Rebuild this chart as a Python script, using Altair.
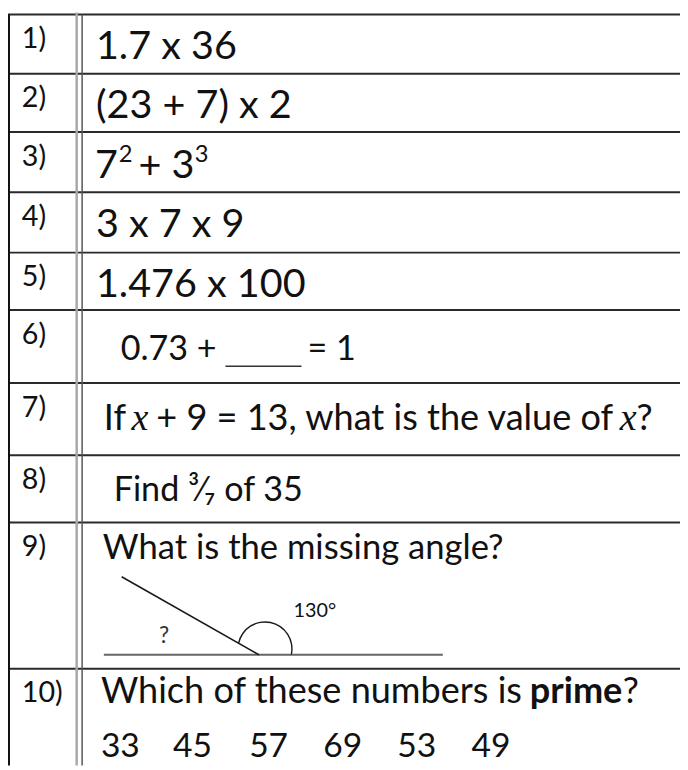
import altair as alt
import pandas as pd

# ---------------- content ----------------
labels = ["1)", "2)", "3)", "4)", "5)", "6)", "7)", "8)", "9)", "10)"]
questions_top = ["1.7 x 36", "(23 + 7) x 2", None, "3 x 7 x 9", "1.476 x 100"]
row3_text = ["7", "2", "+ 3", "3"]
row3_kind = ["main", "sup", "main", "sup"]
row6_text = ["0.73 +", "= 1"]
row7_text = ["If", "x", "+ 9 = 13, what is the value of", "x", "?"]
row7_kind = ["n", "i", "n", "i", "n"]
row8_text = ["Find \u00b3\u2044\u2087 of 35"]
row9_text = ["What is the missing angle?"]
row10_text = ["Which of these numbers is", "prime", "?"]
row10_kind = ["n", "b", "n"]
prime_choices = ["33", "45", "57", "69", "53", "49"]
angle_known = "130\u00b0"
angle_unknown = "?"

# ---------------- layout (page pixels) ----------------
PAGE_W, PAGE_H, MARGIN = 688, 770, 8
row_edges = [10, 70, 129, 190, 251, 309, 383, 456, 524, 672]
label_x = 22
label_off = 34
label_size = 29
top_q_x = 97
top_q_off = 45
top_q_size = 40
row3_x = [96, 120, 140, 197]
row3_base = {"main": 175, "sup": 159}
row3_size = {"main": 40, "sup": 24}
row6_x = [122, 311]
row6_base = 360
row6_size = 34.5
blank_line = [228, 305, 366]
row7_x = [105, 133, 158, 627, 644]
row7_base = 430
row7_size = 36.5
row8_x = [115]
row8_base = 502
row8_size = 34.5
row9_x = [104]
row9_base = 561
row9_size = 35
row10_x = [102, 536, 630]
row10_base = 707
row10_size = 36.5
choices_x = [102, 175, 252, 327, 402, 477]
choices_base = 761
choices_size = 34

v_lines_x = [9, 77.5, 83]
v_lines_y0 = [10, 8, 10]
v_lines_col = ["#111111", "#a8a8a8", "#555555"]
v_lines_w = [2, 2.5, 1.5]

fig_base = [105, 658, 448, 658]
fig_slant = [123, 579, 262, 658]
arc_center = [268, 652]
arc_r = [28, 26.6]
arc_theta = [4.93, 8.06]
q_mark_pos = [166, 646]
deg_pos = [297, 620]

FONT = "Lato"

xs = alt.Scale(domain=[MARGIN, PAGE_W], nice=False, zero=False)
ys = alt.Scale(domain=[MARGIN, PAGE_H], nice=False, zero=False, reverse=True)
W = PAGE_W - MARGIN
H = PAGE_H - MARGIN


def X(f="x"):
    return alt.X(f"{f}:Q", scale=xs, axis=None)


def Y(f="y"):
    return alt.Y(f"{f}:Q", scale=ys, axis=None)


# ---------------- rules ----------------
rules = []
for e in row_edges:
    rules.append(dict(x=MARGIN, x2=PAGE_W, y=e, y2=e, c="#2a2a2a", w=2))
for vx, vy, vc, vw in zip(v_lines_x, v_lines_y0, v_lines_col, v_lines_w):
    rules.append(dict(x=vx, x2=vx, y=vy, y2=PAGE_H, c=vc, w=vw))
rules.append(dict(x=fig_base[0], y=fig_base[1], x2=fig_base[2], y2=fig_base[3], c="#666666", w=2))
rules.append(dict(x=fig_slant[0], y=fig_slant[1], x2=fig_slant[2], y2=fig_slant[3], c="#1a1a1a", w=1.6))
rules.append(dict(x=blank_line[0], y=blank_line[2], x2=blank_line[1], y2=blank_line[2], c="#333333", w=1.6))
rules_df = pd.DataFrame(rules)

rule_layer = alt.Chart(rules_df).mark_rule().encode(
    x=X("x"), x2="x2:Q", y=Y("y"), y2="y2:Q",
    color=alt.Color("c:N", scale=None),
    strokeWidth=alt.StrokeWidth("w:Q", scale=None),
)

arc_layer = alt.Chart(pd.DataFrame([dict(x=arc_center[0], y=arc_center[1])])).mark_arc(
    radius=arc_r[0], radius2=arc_r[1], theta=arc_theta[0], theta2=arc_theta[1], color="#1a1a1a"
).encode(x=X("x"), y=Y("y"))

# ---------------- texts ----------------
normal, italic, bold = [], [], []
for lab, top in zip(labels, row_edges):
    normal.append(dict(t=lab, x=label_x, y=top + label_off, s=label_size))
for q, top in zip(questions_top, row_edges[:5]):
    if q is not None:
        normal.append(dict(t=q, x=top_q_x, y=top + top_q_off, s=top_q_size))
for t, k, x in zip(row3_text, row3_kind, row3_x):
    normal.append(dict(t=t, x=x, y=row3_base[k], s=row3_size[k]))
for t, x in zip(row6_text, row6_x):
    normal.append(dict(t=t, x=x, y=row6_base, s=row6_size))
for t, k, x in zip(row7_text, row7_kind, row7_x):
    if k == "i":
        italic.append(dict(t=t, x=x, y=row7_base, s=row7_size + 2))
    else:
        normal.append(dict(t=t, x=x, y=row7_base, s=row7_size))
for t, x in zip(row8_text, row8_x):
    normal.append(dict(t=t, x=x, y=row8_base, s=row8_size))
for t, x in zip(row9_text, row9_x):
    normal.append(dict(t=t, x=x, y=row9_base, s=row9_size))
for t, k, x in zip(row10_text, row10_kind, row10_x):
    (bold if k == "b" else normal).append(dict(t=t, x=x, y=row10_base, s=row10_size))
for t, x in zip(prime_choices, choices_x):
    normal.append(dict(t=t, x=x, y=choices_base, s=choices_size))
normal.append(dict(t=angle_known, x=deg_pos[0], y=deg_pos[1], s=20))


def text_layer(rows, **kw):
    return alt.Chart(pd.DataFrame(rows)).mark_text(
        align="left", baseline="alphabetic", color="#111111", **kw
    ).encode(x=X("x"), y=Y("y"), text="t:N", size=alt.Size("s:Q", scale=None))


t_normal = text_layer(normal, font=FONT)
t_italic = text_layer(italic, font="Liberation Serif", fontStyle="italic")
t_bold = text_layer(bold, font=FONT, fontWeight="bold")
t_q = alt.Chart(pd.DataFrame([dict(t=angle_unknown, x=q_mark_pos[0], y=q_mark_pos[1])])).mark_text(
    align="center", baseline="alphabetic", font=FONT, fontSize=23, color="#333333"
).encode(x=X("x"), y=Y("y"), text="t:N")

chart = alt.layer(rule_layer, arc_layer, t_normal, t_italic, t_bold, t_q).properties(
    width=W, height=H, padding=0, autosize=alt.AutoSizeParams(type="none"), background="white"
).configure_view(stroke=None)

chart.save("out.html", embed_options={"renderer": "svg", "actions": False})
